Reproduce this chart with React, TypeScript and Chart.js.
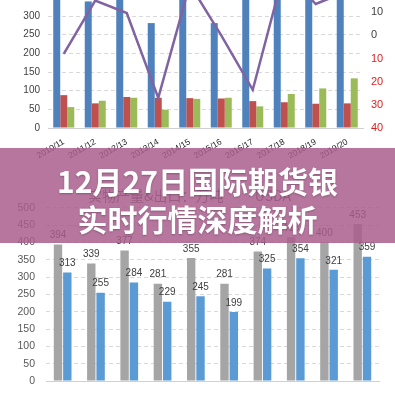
import React, { useEffect, useRef } from "react";
import { Chart, registerables } from "chart.js";

Chart.register(...registerables);

// ---- data ----
const categories = ["2010/11", "2011/12", "2012/13", "2013/14", "2014/15", "2015/16", "2016/17", "2017/18", "2018/19", "2019/20"];
const topBlue = [394, 339, 377, 281, 355, 281, 374, 415, 400, 453];
const topRed = [88, 66, 83, 81, 80, 79, 72, 69, 65, 66];
const topGreen = [56, 73, 81, 49, 78, 81, 58, 91, 106, 133];
const topLine = [-8, 15, 9.6, -27, 22, 0, -23.5, 28, 13.5, 19];

const lowerGrey = [394, 339, 377, 281, 355, 281, 374, 415, 400, 453];
const lowerBlue = [313, 255, 284, 229, 245, 199, 325, 354, 321, 359];

const lowerTitle = "实物产量&出口：万吨          USDA";
const bannerLine1 = "12月27日国际期货银";
const bannerLine2 = "实时行情深度解析";

const FONT = "'Liberation Sans', Arial, sans-serif";

const valueLabels = {
  id: "valueLabels",
  afterDatasetsDraw(chart: any) {
    const ctx = chart.ctx;
    ctx.save();
    ctx.font = `10px ${FONT}`;
    ctx.fillStyle = "#404040";
    ctx.textAlign = "center";
    ctx.textBaseline = "bottom";
    chart.data.datasets.forEach((ds: any, i: number) => {
      const meta = chart.getDatasetMeta(i);
      meta.data.forEach((el: any, j: number) => {
        ctx.fillText(String(ds.data[j]), el.x, el.y - 4);
      });
    });
    ctx.restore();
  },
};

const noPad = (s: any) => {
  s.paddingTop = 0;
  s.paddingBottom = 0;
  s.paddingLeft = 0;
  s.paddingRight = 0;
};

export default function App() {
  const topRef = useRef<HTMLCanvasElement>(null);
  const lowRef = useRef<HTMLCanvasElement>(null);

  useEffect(() => {
    const top = new Chart(topRef.current!, {
      type: "bar",
      data: {
        labels: categories,
        datasets: [
          { type: "line", data: topLine, yAxisID: "y1", borderColor: "#8064a2", borderWidth: 2.5, pointRadius: 0, tension: 0, order: 0 } as any,
          { data: topBlue, backgroundColor: "#4f81bd", yAxisID: "y", order: 1 },
          { data: topRed, backgroundColor: "#c0504d", yAxisID: "y", order: 1 },
          { data: topGreen, backgroundColor: "#9bbb59", yAxisID: "y", order: 1 },
        ],
      },
      options: {
        responsive: false,
        animation: false,
        layout: { autoPadding: false, padding: 0 } as any,
        datasets: { bar: { categoryPercentage: 0.667, barPercentage: 1 } },
        plugins: { legend: { display: false }, tooltip: { enabled: false }, title: { display: false } },
        scales: {
          x: {
            grid: { display: false },
            border: { display: true, color: "#d0d0d0" },
            ticks: { color: "#262626", font: { size: 8.5, family: FONT }, maxRotation: 30, minRotation: 30, autoSkip: false, padding: 1 },
            afterFit: (s: any) => { s.height = 30; noPad(s); },
          },
          y: {
            position: "left",
            min: 0,
            max: 450,
            grid: { color: "#d9d9d9", drawTicks: false },
            border: { display: false, dash: [4, 3] },
            ticks: { stepSize: 50, color: "#404040", font: { size: 10, family: FONT }, padding: 8 },
            afterFit: (s: any) => { s.width = 48; noPad(s); },
          },
          y1: {
            position: "right",
            min: -40,
            max: 32.5,
            grid: { display: false, drawTicks: false },
            border: { display: false },
            ticks: {
              stepSize: 10,
              font: { size: 11, family: FONT },
              padding: 8,
              color: (c: any) => (c.tick && c.tick.value < 0 ? "#e02020" : "#404040"),
              callback: (v: any) => String(Math.abs(Number(v))),
            },
            afterBuildTicks: (s: any) => {
              s.ticks = s.ticks.filter((t: any) => Math.abs(t.value / 10 - Math.round(t.value / 10)) < 1e-6);
            },
            afterFit: (s: any) => { s.width = 32; noPad(s); },
          },
        },
      } as any,
    });

    const low = new Chart(lowRef.current!, {
      type: "bar",
      data: {
        labels: categories,
        datasets: [
          { data: lowerGrey, backgroundColor: "#a5a5a5" },
          { data: lowerBlue, backgroundColor: "#5b9bd5" },
        ],
      },
      options: {
        responsive: false,
        animation: false,
        layout: { autoPadding: false, padding: { left: 0, right: 16, top: 0, bottom: 0 } } as any,
        datasets: { bar: { categoryPercentage: 0.56, barPercentage: 0.9 } },
        plugins: {
          legend: { display: false },
          tooltip: { enabled: false },
          title: {
            display: true,
            text: lowerTitle,
            color: "#595959",
            font: { size: 14, family: "'Noto Sans CJK SC', sans-serif", weight: "normal" },
            padding: { top: 16, bottom: 4 },
          },
        },
        scales: {
          x: {
            grid: { display: false },
            border: { display: true, color: "#d0d0d0" },
            ticks: { color: "#595959", font: { size: 9, family: FONT }, maxRotation: 45, minRotation: 45, autoSkip: false, padding: 9 },
            afterFit: (s: any) => { s.height = 40; noPad(s); },
          },
          y: {
            min: 0,
            max: 500,
            grid: { color: "#d9d9d9", drawTicks: false },
            border: { display: false, dash: [4, 3] },
            ticks: { stepSize: 50, color: "#595959", font: { size: 10.5, family: FONT }, padding: 11 },
            afterFit: (s: any) => { s.width = 46; noPad(s); },
          },
        },
      } as any,
      plugins: [valueLabels],
    });

    return () => {
      top.destroy();
      low.destroy();
    };
  }, []);

  return (
    <div style={{ position: "fixed", left: 0, top: 0, width: 395, height: 395, overflow: "hidden", background: "#ffffff" }}>
      <canvas ref={topRef} width={395} height={198} style={{ position: "absolute", left: 0, top: -40, width: 395, height: 198 }} />
      <canvas ref={lowRef} width={395} height={250} style={{ position: "absolute", left: 0, top: 171, width: 395, height: 250 }} />
      <div
        style={{
          position: "absolute",
          left: 0,
          top: 148,
          width: 395,
          height: 95,
          background: "rgba(168, 92, 140, 0.84)",
          color: "#ffffff",
          fontFamily: "'Noto Sans CJK SC', sans-serif",
          fontWeight: 700,
          fontSize: 30,
          lineHeight: "38px",
          textAlign: "center",
          paddingTop: 13,
          boxSizing: "border-box",
          textShadow: "0 1px 2px rgba(0,0,0,0.25)",
        }}
      >
        <div>{bannerLine1}</div>
        <div>{bannerLine2}</div>
      </div>
    </div>
  );
}
